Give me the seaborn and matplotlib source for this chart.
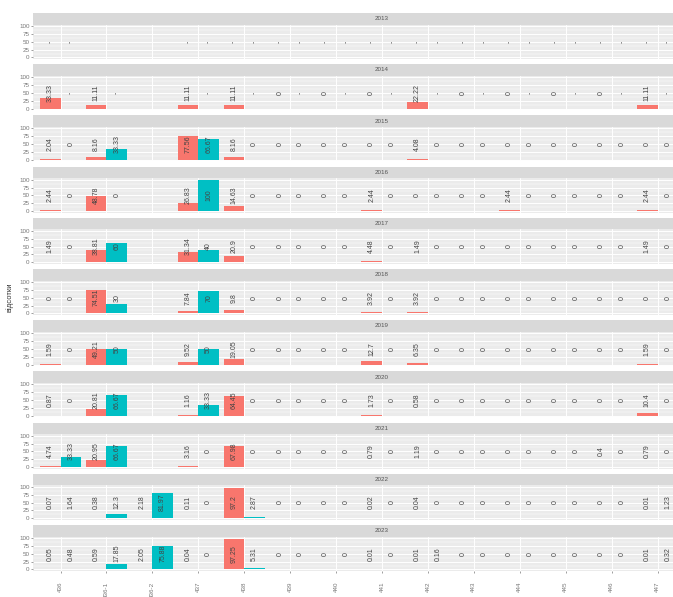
import numpy as np
import pandas as pd
import matplotlib
matplotlib.use("Agg")
import matplotlib.pyplot as plt
import seaborn as sns

# D = value shown as "-" (no bar), X = category absent that year
D = np.nan
X = None

years = [2013, 2014, 2015, 2016, 2017, 2018, 2019, 2020, 2021, 2022, 2023]
categories = ["436", "436-1", "436-2", "437", "438", "439", "440",
              "441", "442", "443", "444", "445", "446", "447"]
groups = ["A", "B"]
colors = {"A": "#F8766D", "B": "#00BFC4"}

red_values = [
    [D, X, X, D, D, D, D, D, D, D, D, D, D, D],
    [33.33, 11.11, X, 11.11, 11.11, 0, 0, 0, 22.22, 0, 0, 0, 0, 11.11],
    [2.04, 8.16, X, 77.56, 8.16, 0, 0, 0, 4.08, 0, 0, 0, 0, 0],
    [2.44, 48.78, X, 26.83, 14.63, 0, 0, 2.44, 0, 0, 2.44, 0, 0, 2.44],
    [1.49, 38.81, X, 31.34, 20.9, 0, 0, 4.48, 1.49, 0, 0, 0, 0, 1.49],
    [0, 74.51, X, 7.84, 9.8, 0, 0, 3.92, 3.92, 0, 0, 0, 0, 0],
    [1.59, 49.21, X, 9.52, 19.05, 0, 0, 12.7, 6.35, 0, 0, 0, 0, 1.59],
    [0.87, 20.81, X, 1.16, 64.45, 0, 0, 1.73, 0.58, 0, 0, 0, 0, 10.4],
    [4.74, 20.95, X, 3.16, 67.98, 0, 0, 0.79, 1.19, 0, 0, 0, 0.4, 0.79],
    [0.07, 0.38, 2.18, 0.11, 97.2, 0, 0, 0.02, 0.04, 0, 0, 0, 0, 0.01],
    [0.05, 0.59, 2.05, 0.04, 97.25, 0, 0, 0.01, 0.01, 0, 0, 0, 0, 0.01],
]
teal_values = [
    [D, X, X, D, D, D, D, D, D, D, D, D, D, D],
    [D, D, X, D, D, D, D, D, D, D, D, D, D, D],
    [0, 33.33, X, 66.67, 0, 0, 0, 0, 0, 0, 0, 0, 0, 0],
    [0, 0, X, 100, 0, 0, 0, 0, 0, 0, 0, 0, 0, 0],
    [0, 60, X, 40, 0, 0, 0, 0, 0, 0, 0, 0, 0, 0],
    [0, 30, X, 70, 0, 0, 0, 0, 0, 0, 0, 0, 0, 0],
    [0, 50, X, 50, 0, 0, 0, 0, 0, 0, 0, 0, 0, 0],
    [0, 66.67, X, 33.33, 0, 0, 0, 0, 0, 0, 0, 0, 0, 0],
    [33.33, 66.67, X, 0, 0, 0, 0, 0, 0, 0, 0, 0, 0, 0],
    [1.64, 12.3, 81.97, 0, 2.87, 0, 0, 0, 0, 0, 0, 0, 0, 1.23],
    [0.48, 17.85, 75.88, 0, 5.31, 0, 0, 0, 0.16, 0, 0, 0, 0, 0.32],
]

rows = []
for yi, year in enumerate(years):
    for g, vals in zip(groups, [red_values[yi], teal_values[yi]]):
        for cat, v in zip(categories, vals):
            if v is None:
                continue
            rows.append({"year": year, "category": cat, "group": g, "value": v})
df = pd.DataFrame(rows)
# "-" entries get a zero-height bar so the dodge keeps both slots
df["bar"] = df["value"].fillna(0)

sns.set_theme(style="darkgrid")
plt.rcParams["font.family"] = ["Liberation Sans", "DejaVu Sans"]

W, H = 673, 597
fig = plt.figure(figsize=(W / 100, H / 100), dpi=100)
fig.patch.set_facecolor("white")

left_px, right_px = 33, 731
period, strip_h, panel_h, first_top = 51.2, 11.5, 34.5, 13
offsets = {"A": -0.225, "B": 0.225}

for i, year in enumerate(years):
    strip_top = first_top + period * i
    panel_top = strip_top + strip_h
    ax = fig.add_axes([left_px / W, 1 - (panel_top + panel_h) / H,
                       (right_px - left_px) / W, panel_h / H])
    sax = fig.add_axes([left_px / W, 1 - panel_top / H,
                        (right_px - left_px) / W, strip_h / H])
    sax.set_facecolor("#D9D9D9")
    sax.set_xticks([])
    sax.set_yticks([])
    for s in sax.spines.values():
        s.set_visible(False)
    sax.grid(False)
    sax.text(0.5, 0.5, str(year), transform=sax.transAxes, ha="center",
             va="center", fontsize=4.5, color="#555555")

    sub = df[df["year"] == year]
    sns.barplot(data=sub, x="category", y="bar", hue="group",
                order=categories, hue_order=groups, palette=colors,
                width=0.9, saturation=1, errorbar=None, legend=False,
                linewidth=0, edgecolor="none", ax=ax)
    for _, r in sub.iterrows():
        xpos = categories.index(r["category"]) + offsets[r["group"]]
        txt = "-" if pd.isna(r["value"]) else "%g" % r["value"]
        ax.text(xpos, 50, txt, rotation=90, ha="center", va="center",
                fontsize=5, color="#444444")

    ax.set_facecolor("#EBEBEB")
    ax.set_xlim(-0.6, 14.6)
    ax.set_ylim(-5, 105)
    ax.set_yticks([0, 25, 50, 75, 100])
    ax.set_yticks([12.5, 37.5, 62.5, 87.5], minor=True)
    ax.grid(True, which="major", color="white", linewidth=0.7)
    ax.grid(True, which="minor", axis="y", color="white", linewidth=0.35)
    ax.set_axisbelow(True)
    for s in ax.spines.values():
        s.set_visible(False)
    ax.set_xlabel("")
    ax.set_ylabel("")
    ax.tick_params(axis="y", which="major", labelsize=4.5, labelcolor="#777777",
                   length=1.5, width=0.5, color="#777777", pad=1, left=True)
    ax.tick_params(axis="y", which="minor", length=0)
    if i == len(years) - 1:
        ax.set_xticks(range(len(categories)))
        ax.set_xticklabels(categories, rotation=90, fontsize=4.5, color="#777777")
        ax.tick_params(axis="x", length=1.5, width=0.5, color="#777777",
                       pad=6, bottom=True)
    else:
        ax.set_xticks(range(len(categories)))
        ax.tick_params(axis="x", labelbottom=False, length=0)

fig.text(10 / W, 1 - 297 / H, "відсотки", rotation=90, ha="center",
         va="center", fontsize=5.5, color="#333333")

fig.savefig("out.png", dpi=100)
